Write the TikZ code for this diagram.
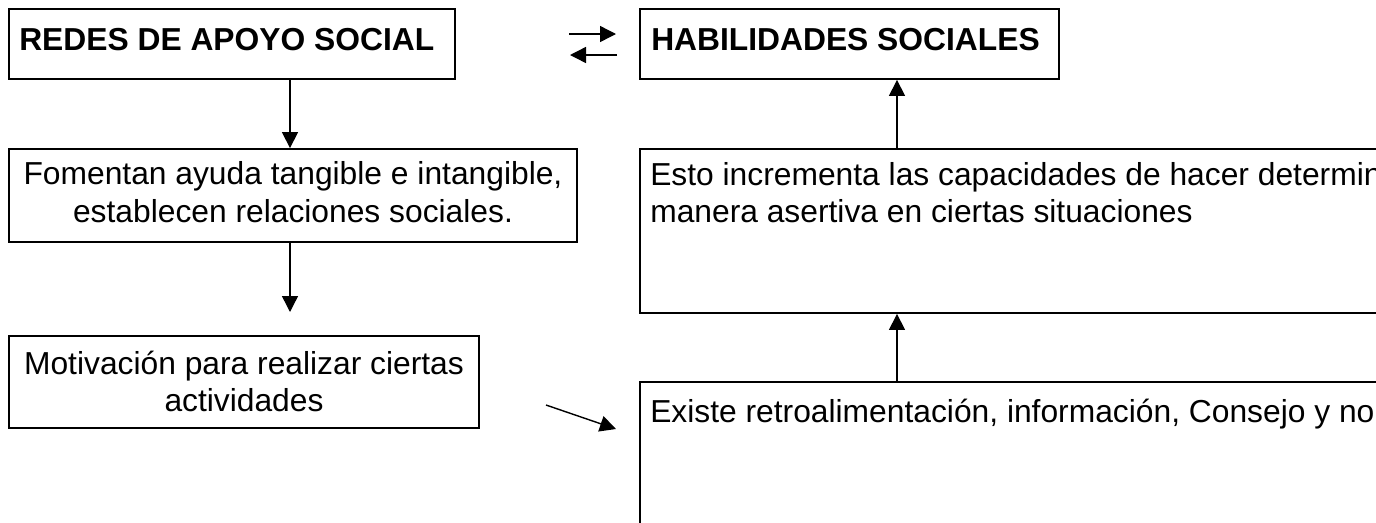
\documentclass[tikz,border=0pt]{standalone}
\usepackage{fontspec}
\setmainfont{Liberation Sans}
\usetikzlibrary{arrows.meta}

\tikzset{
	box/.style={draw, line width=1.3pt, inner sep=0pt},
	txt/.style={inner sep=0pt, font=\fontsize{22.6}{27}\selectfont},
	arr/.style={line width=1pt, -{Triangle[length=0.4cm,width=0.4cm]}}
}

\begin{document}
\begin{tikzpicture}[x=0.025cm, y=-0.025cm]
		\useasboundingbox (0,0) rectangle (1376,522);
		\clip (0,0) rectangle (1376,522);
		
		%Left column
		\node[box, minimum width=446*0.025cm, minimum height=70*0.025cm] (redes) at (232,44) {};
		\node[txt, anchor=base west] (tredes) at (19,50) {\bfseries REDES DE APOYO SOCIAL};
		
		\node[box, minimum width=568*0.025cm, minimum height=93*0.025cm] (foment) at (293,195.5) {};
		\node[txt, anchor=base] (tfoment1) at (293,184) {Fomentan ayuda tangible e intangible,};
		\node[txt, anchor=base] (tfoment2) at (293,222) {establecen relaciones sociales.};
		
		\node[box, minimum width=470*0.025cm, minimum height=92*0.025cm] (motiv) at (244,382) {};
		\node[txt, anchor=base] (tmotiv1) at (244,374) {Motivación para realizar ciertas};
		\node[txt, anchor=base] (tmotiv2) at (244,411) {actividades};
		
		%Right column
		\node[box, minimum width=419*0.025cm, minimum height=70*0.025cm] (habil) at (849.5,44) {};
		\node[txt, anchor=base west] (thabil) at (651,50) {\bfseries HABILIDADES SOCIALES};
		
		\node[box, minimum width=760*0.025cm, minimum height=164*0.025cm] (esto) at (1020,231) {};
		\node[txt, anchor=base west] (testo1) at (650,185) {Esto incrementa las capacidades de hacer determin};
		\node[txt, anchor=base west] (testo2) at (650,222) {manera asertiva en ciertas situaciones};
		
		\node[box, minimum width=760*0.025cm, minimum height=158*0.025cm] (existe) at (1020,461) {};
		\node[txt, anchor=base west] (texiste) at (650,422) {Existe retroalimentación, información, Consejo y nor};
		
		%Arrows
		\coordinate (xl) at (290,0);
		\coordinate (xr) at (897,0);
		\coordinate (cd) at (290,312);
		\draw[arr] (redes.south -| xl) -- (foment.north -| xl);
		\draw[arr] (foment.south -| xl) -- (cd);
		\draw[arr] (esto.north -| xr) -- (habil.south -| xr);
		\draw[arr] (existe.north -| xr) -- (esto.south -| xr);
		
		\coordinate (ab1) at (569,34);
		\coordinate (ab2) at (616,34);
		\coordinate (ba1) at (617,55);
		\coordinate (ba2) at (570,55);
		\draw[arr] (ab1) -- (ab2);
		\draw[arr] (ba1) -- (ba2);
		
		\coordinate (mf1) at (546,405);
		\coordinate (mf2) at (616,429);
		\draw[arr] (mf1) -- (mf2);
	\end{tikzpicture}
\end{document}
